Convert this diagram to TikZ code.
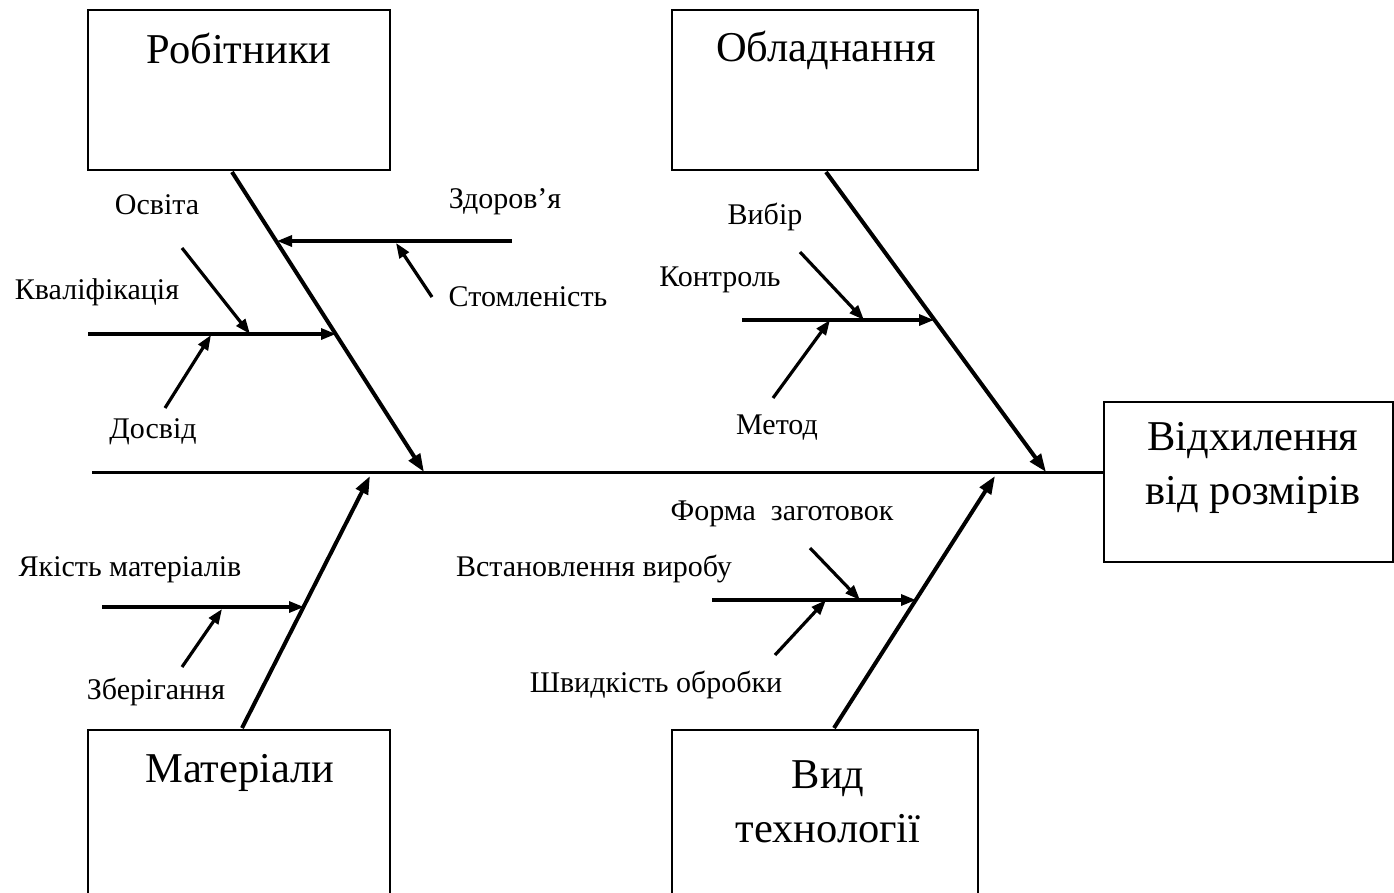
\documentclass[tikz,border=0pt]{standalone}
\usepackage{fontspec}
\setmainfont{Liberation Serif}
\usetikzlibrary{arrows.meta}
\begin{document}
\begin{tikzpicture}[x=1pt,y=-1pt,
  box/.style={draw,line width=2pt,inner sep=0pt},
  title/.style={font=\fontsize{42.5}{54}\selectfont,inner sep=0pt,align=center},
  lbl/.style={font=\fontsize{30}{34}\selectfont,inner sep=0pt},
  bone/.style={line width=4pt,-{Triangle[length=18pt,width=13pt]}},
  twig/.style={line width=3.2pt,-{Triangle[length=15pt,width=11pt]}},
  spine/.style={line width=3pt}]
\useasboundingbox (0,0) rectangle (1394,892);
\begin{scope}
\clip (0,0) rectangle (1394,892);
% boxes
\node[box,minimum width=302pt,minimum height=160pt] (rob) at (239,90) {};
\node[box,minimum width=306pt,minimum height=160pt] (obl) at (825,90) {};
\node[box,minimum width=302pt,minimum height=166pt] (mat) at (239,813) {};
\node[box,minimum width=306pt,minimum height=166pt] (tech) at (825,813) {};
\node[box,minimum width=289pt,minimum height=160pt] (eff) at (1248,482) {};
\end{scope}
% titles
\node[title] (trob) at (239,48) {Робітники};
\node[title] (tobl) at (826,50) {Обладнання};
\node[title] (tmat) at (240,773) {Матеріали};
\node[title] (ttech) at (828,802) {Вид\\технології};
\node[title] (teff) at (1253,468) {Відхилення\\від розмірів};
% spine
\coordinate (sp0) at (92,472);
\draw[spine] (sp0) -- (eff.west |- sp0);
% main bones
\coordinate (b1s) at (232,172); \coordinate (b1e) at (424,472);
\coordinate (b2s) at (826,172); \coordinate (b2e) at (1046,472);
\coordinate (b3s) at (242,728); \coordinate (b3e) at (370,476);
\coordinate (b4s) at (834,728); \coordinate (b4e) at (995,476);
\draw[bone] (b1s) -- (b1e);
\draw[bone] (b2s) -- (b2e);
\draw[bone] (b3s) -- (b3e);
\draw[bone] (b4s) -- (b4e);
% Workers
\coordinate (k0) at (88,334); \coordinate (k1) at (336,334);
\draw[twig] (k0) -- (k1);
\coordinate (o0) at (182,248); \coordinate (o1) at (250,334);
\draw[twig] (o0) -- (o1);
\coordinate (d0) at (165,408); \coordinate (d1) at (211,335);
\draw[twig] (d0) -- (d1);
\coordinate (z0) at (512,241); \coordinate (z1) at (277,241);
\draw[twig] (z0) -- (z1);
\coordinate (s0) at (432,297); \coordinate (s1) at (396,243);
\draw[twig] (s0) -- (s1);
\node[lbl] (losv) at (157,205) {Освіта};
\node[lbl] (lkv) at (97,292) {Кваліфікація};
\node[lbl] (ldos) at (153,432) {Досвід};
\node[lbl] (lzd) at (505,202) {Здоров'я};
\node[lbl] (lsto) at (528,297) {Стомленість};
% Equipment
\coordinate (c0) at (742,320); \coordinate (c1) at (934,320);
\draw[twig] (c0) -- (c1);
\coordinate (v0) at (800,252); \coordinate (v1) at (864,320);
\draw[twig] (v0) -- (v1);
\coordinate (m0) at (773,398); \coordinate (m1) at (830,320);
\draw[twig] (m0) -- (m1);
\node[lbl] (lvyb) at (765,217) {Вибір};
\node[lbl] (lkon) at (720,280) {Контроль};
\node[lbl] (lmet) at (777,428) {Метод};
% Materials
\coordinate (q0) at (102,607); \coordinate (q1) at (304,607);
\draw[twig] (q0) -- (q1);
\coordinate (zb0) at (182,667); \coordinate (zb1) at (222,609);
\draw[twig] (zb0) -- (zb1);
\node[lbl] (lyak) at (130,570) {Якість матеріалів};
\node[lbl] (lzb) at (156,692) {Зберігання};
% Technology
\coordinate (w0) at (712,600); \coordinate (w1) at (916,600);
\draw[twig] (w0) -- (w1);
\coordinate (f0) at (810,548); \coordinate (f1) at (860,600);
\draw[twig] (f0) -- (f1);
\coordinate (sh0) at (775,655); \coordinate (sh1) at (826,600);
\draw[twig] (sh0) -- (sh1);
\node[lbl] (lform) at (782,514) {Форма\ \ заготовок};
\node[lbl] (lvst) at (594,569) {Встановлення виробу};
\node[lbl] (lshv) at (656,685) {Швидкість обробки};
\end{tikzpicture}
\end{document}
